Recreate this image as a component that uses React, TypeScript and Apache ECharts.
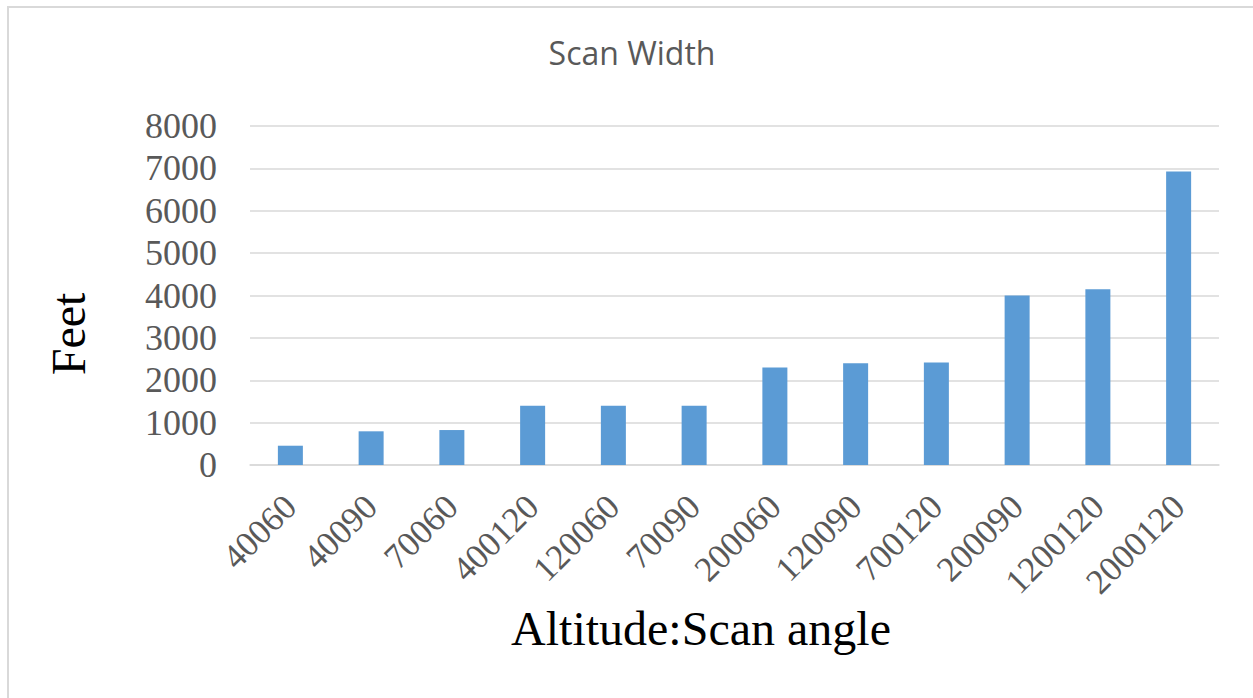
import React, { useEffect, useRef } from "react";
import * as echarts from "echarts";

const categories = [
  "40060", "40090", "70060", "400120", "120060", "70090",
  "200060", "120090", "700120", "200090", "1200120", "2000120",
];
const scanWidthFeet = [455, 795, 825, 1400, 1400, 1400, 2300, 2400, 2420, 4000, 4145, 6925];
const yTicks = { min: 0, max: 8000, interval: 1000 };
const chartTitle = "Scan Width";
const yTitle = "Feet";
const xTitle = "Altitude:Scan angle";

const serif = "'Times New Roman', 'Liberation Serif', serif";

export default function App() {
  const ref = useRef<HTMLDivElement>(null);
  useEffect(() => {
    if (!ref.current) return;
    const chart = echarts.init(ref.current, undefined, { renderer: "svg" });
    chart.setOption({
      animation: false,
      backgroundColor: "#ffffff",
      grid: { left: 250, right: 34, top: 126, bottom: 233, containLabel: false },
      xAxis: {
        type: "category",
        data: categories,
        axisLine: { show: true, lineStyle: { color: "#d9d9d9", width: 1.5 } },
        axisTick: { show: false },
        axisLabel: {
          interval: 0,
          rotate: 45,
          margin: 36,
          fontFamily: serif,
          fontSize: 35,
          color: "#595959",
        },
      },
      yAxis: {
        type: "value",
        min: yTicks.min,
        max: yTicks.max,
        interval: yTicks.interval,
        axisLine: { show: false },
        axisTick: { show: false },
        splitLine: { lineStyle: { color: "#d9d9d9", width: 1.5 } },
        axisLabel: {
          margin: 33,
          fontFamily: serif,
          fontSize: 36,
          color: "#595959",
          formatter: (v: number) => String(v),
        },
      },
      series: [
        {
          type: "bar",
          data: scanWidthFeet,
          barWidth: 25,
          itemStyle: { color: "#5b9bd5" },
        },
      ],
      graphic: [
        {
          type: "rect",
          shape: { x: 8, y: 7, width: 1300, height: 720 },
          style: { fill: "none", stroke: "#d9d9d9", lineWidth: 2 },
          silent: true,
        },
        {
          type: "text",
          x: 632,
          y: 52,
          style: {
            text: chartTitle,
            fontFamily: "'Open Sans', 'Noto Sans', sans-serif",
            fontSize: 32,
            fill: "#595959",
            textAlign: "center",
            textVerticalAlign: "middle",
          },
        },
        {
          type: "text",
          x: 68,
          y: 334,
          rotation: Math.PI / 2,
          style: {
            text: yTitle,
            fontFamily: serif,
            fontSize: 48,
            fill: "#000000",
            textAlign: "center",
            textVerticalAlign: "middle",
          },
        },
        {
          type: "text",
          x: 701,
          y: 628,
          style: {
            text: xTitle,
            fontFamily: serif,
            fontSize: 48,
            fill: "#000000",
            textAlign: "center",
            textVerticalAlign: "middle",
          },
        },
      ],
    });
    return () => chart.dispose();
  }, []);
  return (
    <div
      ref={ref}
      style={{ position: "fixed", left: 0, top: 0, width: 1253, height: 698, background: "#fff" }}
    />
  );
}
